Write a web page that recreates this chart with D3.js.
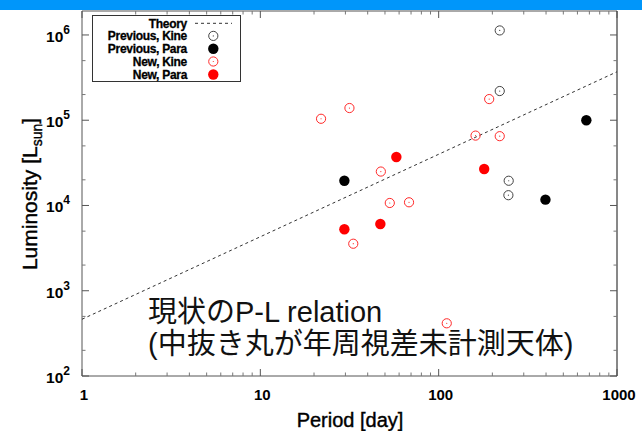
<!DOCTYPE html>
<html><head><meta charset="utf-8">
<script src="https://cdn.jsdelivr.net/npm/d3@7"></script>
<style>
html,body{margin:0;padding:0;background:#fff;}
svg{display:block;}
</style></head>
<body>
<svg id="chart" width="642" height="431"></svg>
<script>
// ---- data ----
const prevKinePeriod = [220, 220, 247, 246];
const prevKineLum    = [1.13e6, 2.2e5, 1.95e4, 1.32e4];
const prevParaPeriod = [29.6, 397, 673];
const prevParaLum    = [1.95e4, 1.17e4, 1.0e5];
const newKinePeriod  = [21.9, 31.6, 33.2, 47.4, 53.2, 68.2, 111, 161, 192, 220];
const newKineLum     = [1.04e5, 1.39e5, 3.56e3, 2.5e4, 1.07e4, 1.09e4, 415, 6.6e4, 1.77e5, 6.5e4];
const newParaPeriod  = [29.6, 47.1, 57.9, 180];
const newParaLum     = [5.26e3, 6.07e3, 3.7e4, 2.68e4];
const theoryPeriod   = [1, 1000];
const theoryLum      = [463, 3.7e5];

const xTickValues = [1, 10, 100, 1000];
const xTickLabels = ["1", "10", "100", "1000"];
const yTickValues = [1e2, 1e3, 1e4, 1e5, 1e6];
const yTickExponents = ["2", "3", "4", "5", "6"];
const xMinorMult = [2, 3, 4, 5, 6, 7, 8, 9];
const yMinorMult = [2, 5];

const legendLabels = ["Theory", "Previous, Kine", "Previous, Para", "New, Kine", "New, Para"];
const annotationLines = ["現状のP-L relation", "(中抜き丸が年周視差未計測天体)"];

// ---- layout ----
const L = 82, R = 617, T = 11, B = 376;
const svg = d3.select("#chart");

svg.append("rect").attr("x", 0).attr("y", 0).attr("width", 642).attr("height", 10).attr("fill", "#0096fa");

const x = d3.scaleLog().domain([1, 1000]).range([L, R]);
const y = d3.scaleLog().domain([100, 1.91e6]).range([B, T]);

const g = svg.append("g");

// frame
g.append("line").attr("x1", L).attr("x2", L).attr("y1", T).attr("y2", B).attr("stroke", "#555");
g.append("line").attr("x1", L).attr("x2", R).attr("y1", B).attr("y2", B).attr("stroke", "#555");
g.append("line").attr("x1", L).attr("x2", R).attr("y1", T).attr("y2", T).attr("stroke", "#555");
g.append("line").attr("x1", R).attr("x2", R).attr("y1", T).attr("y2", B).attr("stroke", "#111");

// x ticks
const xMinor = [];
xTickValues.slice(0, -1).forEach(d => xMinorMult.forEach(m => xMinor.push(d * m)));
function xtick(v, len, col) {
  g.append("line").attr("x1", x(v)).attr("x2", x(v)).attr("y1", B).attr("y2", B - len).attr("stroke", col);
  g.append("line").attr("x1", x(v)).attr("x2", x(v)).attr("y1", T).attr("y2", T + len).attr("stroke", col);
}
xTickValues.forEach(v => xtick(v, 7, "#555"));
xMinor.forEach(v => xtick(v, 3.5, "#777"));

// y ticks
const yMinor = [];
yTickValues.slice(0, -1).forEach(d => yMinorMult.forEach(m => yMinor.push(d * m)));
function ytick(v, len, col) {
  g.append("line").attr("x1", L).attr("x2", L + len).attr("y1", y(v)).attr("y2", y(v)).attr("stroke", col);
  g.append("line").attr("x1", R).attr("x2", R - len).attr("y1", y(v)).attr("y2", y(v)).attr("stroke", col);
}
yTickValues.forEach(v => ytick(v, 7, "#555"));
yMinor.forEach(v => ytick(v, 3.5, "#777"));

// tick labels
xTickValues.forEach((v, i) => {
  g.append("text").attr("x", x(v) + 2).attr("y", 400).attr("text-anchor", "middle")
    .attr("font-family", "Liberation Sans, Arial, sans-serif").attr("font-weight", "bold")
    .attr("font-size", 15).text(xTickLabels[i]);
});
yTickValues.forEach((v, i) => {
  const t = g.append("text").attr("x", 70).attr("y", y(v) + 7).attr("text-anchor", "end")
    .attr("font-family", "Liberation Sans, Arial, sans-serif").attr("font-weight", "bold")
    .attr("font-size", 15.5);
  t.append("tspan").text("10");
  t.append("tspan").attr("dy", -8).attr("font-size", 12).text(yTickExponents[i]);
});

// axis titles
svg.append("text").attr("x", 350).attr("y", 427).attr("text-anchor", "middle")
  .attr("font-family", "Liberation Sans, Arial, sans-serif").attr("font-size", 20)
  .attr("stroke", "#000").attr("stroke-width", 0.4)
  .text("Period [day]");
const yl = svg.append("text").attr("transform", "translate(37,194) rotate(-90)").attr("text-anchor", "middle")
  .attr("font-family", "Liberation Sans, Arial, sans-serif").attr("font-size", 21)
  .attr("stroke", "#000").attr("stroke-width", 0.4);
yl.append("tspan").text("Luminosity [L");
yl.append("tspan").attr("font-size", 14).attr("dy", 5).text("sun");
yl.append("tspan").attr("dy", -5).text("]");

// theory line
const line = d3.line().x(d => x(d[0])).y(d => y(d[1]));
g.append("path").datum(d3.zip(theoryPeriod, theoryLum)).attr("d", line)
  .attr("fill", "none").attr("stroke", "#333").attr("stroke-width", 1).attr("stroke-dasharray", "3,3");

// markers
function openPts(px, py, col) {
  const pts = d3.zip(px, py);
  g.selectAll(null).data(pts).enter().append("circle")
    .attr("cx", d => x(d[0])).attr("cy", d => y(d[1])).attr("r", 4.6)
    .attr("fill", "none").attr("stroke", col).attr("stroke-width", 1);
  g.selectAll(null).data(pts).enter().append("circle")
    .attr("cx", d => x(d[0])).attr("cy", d => y(d[1])).attr("r", 0.6).attr("fill", col);
}
function filledPts(px, py, col) {
  g.selectAll(null).data(d3.zip(px, py)).enter().append("circle")
    .attr("cx", d => x(d[0])).attr("cy", d => y(d[1])).attr("r", 5.2).attr("fill", col);
}
openPts(prevKinePeriod, prevKineLum, "#444");
filledPts(prevParaPeriod, prevParaLum, "#000");
openPts(newKinePeriod, newKineLum, "#ff2a2a");
filledPts(newParaPeriod, newParaLum, "#ff0000");

// legend
const lg = svg.append("g");
lg.append("rect").attr("x", 92.5).attr("y", 15.5).attr("width", 148).attr("height", 66)
  .attr("fill", "#fff").attr("stroke", "#333");
const rowY = [23.3, 35.9, 48.7, 61.5, 74.5];
legendLabels.forEach((lab, i) => {
  lg.append("text").attr("x", 187).attr("y", rowY[i] + 4.3).attr("text-anchor", "end")
    .attr("font-family", "Liberation Sans, Arial, sans-serif").attr("font-weight", "bold")
    .attr("font-size", 12).attr("letter-spacing", -0.3)
    .attr("stroke", "#000").attr("stroke-width", 0.3).text(lab);
});
lg.append("line").attr("x1", 195).attr("x2", 232).attr("y1", rowY[0]).attr("y2", rowY[0])
  .attr("stroke", "#333").attr("stroke-dasharray", "3,3");
const sx = 213.3;
[[1, "#444", false], [2, "#000", true], [3, "#ff2a2a", false], [4, "#ff0000", true]].forEach(([i, col, filled]) => {
  if (filled) {
    lg.append("circle").attr("cx", sx).attr("cy", rowY[i]).attr("r", 5.2).attr("fill", col);
  } else {
    lg.append("circle").attr("cx", sx).attr("cy", rowY[i]).attr("r", 4.6).attr("fill", "none").attr("stroke", col);
    lg.append("circle").attr("cx", sx).attr("cy", rowY[i]).attr("r", 0.6).attr("fill", col);
  }
});

// annotation
const ann = svg.append("text").attr("font-family", "Liberation Sans, 'Noto Sans CJK JP', sans-serif")
  .attr("font-size", 29).attr("fill", "#111");
ann.append("tspan").attr("x", 148).attr("y", 322).text(annotationLines[0]);
ann.append("tspan").attr("x", 148).attr("y", 354).text(annotationLines[1]);
</script>
</body></html>
